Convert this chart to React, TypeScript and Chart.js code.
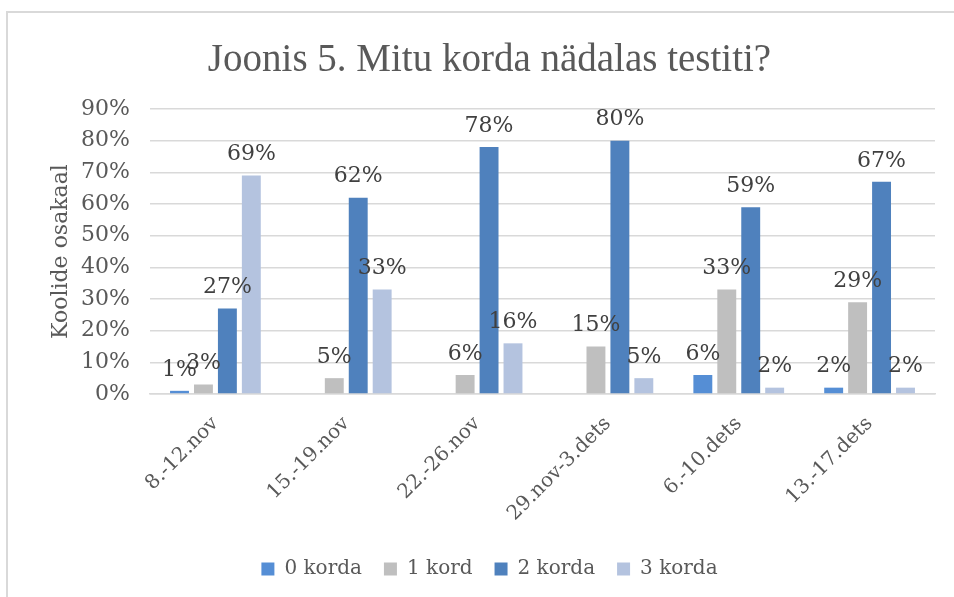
import React, { useEffect, useRef } from "react";
import { Chart, registerables } from "chart.js";

Chart.register(...registerables);

const categories = ["8.-12.nov", "15.-19.nov", "22.-26.nov", "29.nov-3.dets", "6.-10.dets", "13.-17.dets"];
const seriesNames = ["0 korda", "1 kord", "2 korda", "3 korda"];
const korda0 = [1, null, null, null, 6, 2];
const kord1 = [3, 5, 6, 15, 33, 29];
const korda2 = [27, 62, 78, 80, 59, 67];
const korda3 = [69, 33, 16, 5, 2, 2];
const yTicks = [0, 10, 20, 30, 40, 50, 60, 70, 80, 90];
const colors = ["#558ED5", "#BFBFBF", "#4F81BD", "#B4C3DF"];

const FONT = "'DejaVu Serif', serif";

const labelPlugin = {
  id: "barLabels",
  afterDatasetsDraw(chart: any) {
    const ctx = chart.ctx;
    ctx.save();
    ctx.font = `22px ${FONT}`;
    ctx.fillStyle = "#404040";
    ctx.textAlign = "center";
    ctx.textBaseline = "bottom";
    chart.data.datasets.forEach((ds: any, i: number) => {
      const meta = chart.getDatasetMeta(i);
      meta.data.forEach((bar: any, j: number) => {
        const v = ds.data[j];
        if (v === null || v === undefined) return;
        ctx.fillText(`${v}%`, bar.x, bar.y - 10);
      });
    });
    ctx.restore();
  },
};

export default function App() {
  const ref = useRef<HTMLCanvasElement>(null);
  useEffect(() => {
    if (!ref.current) return;
    const all = [korda0, kord1, korda2, korda3];
    const chart = new Chart(ref.current, {
      type: "bar",
      data: {
        labels: categories,
        datasets: all.map((d, i) => ({
          label: seriesNames[i],
          data: d,
          backgroundColor: colors[i],
          borderWidth: 0,
          barPercentage: 0.79,
          categoryPercentage: 0.732,
        })),
      },
      options: {
        animation: false,
        responsive: false,
        devicePixelRatio: 1,
        layout: { padding: { left: 36, right: 35, top: 0, bottom: 8 } },
        plugins: {
          title: {
            display: true,
            text: "Joonis 5. Mitu korda nädalas testiti?",
            font: { family: "'Liberation Serif', serif", size: 39, weight: "normal" },
            color: "#595959",
            padding: { top: 24, bottom: 25.2 },
          },
          legend: {
            position: "bottom",
            labels: {
              font: { family: FONT, size: 20 },
              color: "#595959",
              boxWidth: 13,
              boxHeight: 13,
              padding: 22,
            },
          },
          tooltip: { enabled: false },
        },
        scales: {
          x: {
            grid: { display: false, drawTicks: false },
            border: { color: "#D9D9D9", width: 1.5 },
            ticks: {
              font: { family: FONT, size: 20 },
              color: "#595959",
              minRotation: 45,
              maxRotation: 45,
              padding: 18,
            },
            afterFit(scale: any) {
              scale.height = 143;
            },
          },
          y: {
            min: 0,
            max: 90,
            afterBuildTicks(scale: any) {
              scale.ticks = yTicks.map((v) => ({ value: v }));
            },
            grid: { color: "#D9D9D9", lineWidth: 1.5, drawTicks: false },
            border: { display: false },
            ticks: {
              font: { family: FONT, size: 22 },
              color: "#595959",
              padding: 20,
              callback: (v: any) => `${v}%`,
            },
            title: {
              display: true,
              text: "Koolide osakaal",
              font: { family: FONT, size: 22 },
              color: "#595959",
              padding: 4,
            },
            afterFit(scale: any) {
              scale.width = 106;
            },
          },
        },
      },
      plugins: [labelPlugin],
    });
    return () => chart.destroy();
  }, []);

  return (
    <div style={{ position: "fixed", left: 0, top: 0, width: 954, height: 597, overflow: "hidden", background: "#fff" }}>
      <div
        style={{
          position: "absolute",
          left: 6,
          top: 11,
          width: 1000,
          height: 640,
          border: "2px solid #D9D9D9",
        }}
      />
      <canvas
        ref={ref}
        width={962}
        height={584}
        style={{ position: "absolute", left: 8, top: 13, width: 962, height: 584 }}
      />
    </div>
  );
}
